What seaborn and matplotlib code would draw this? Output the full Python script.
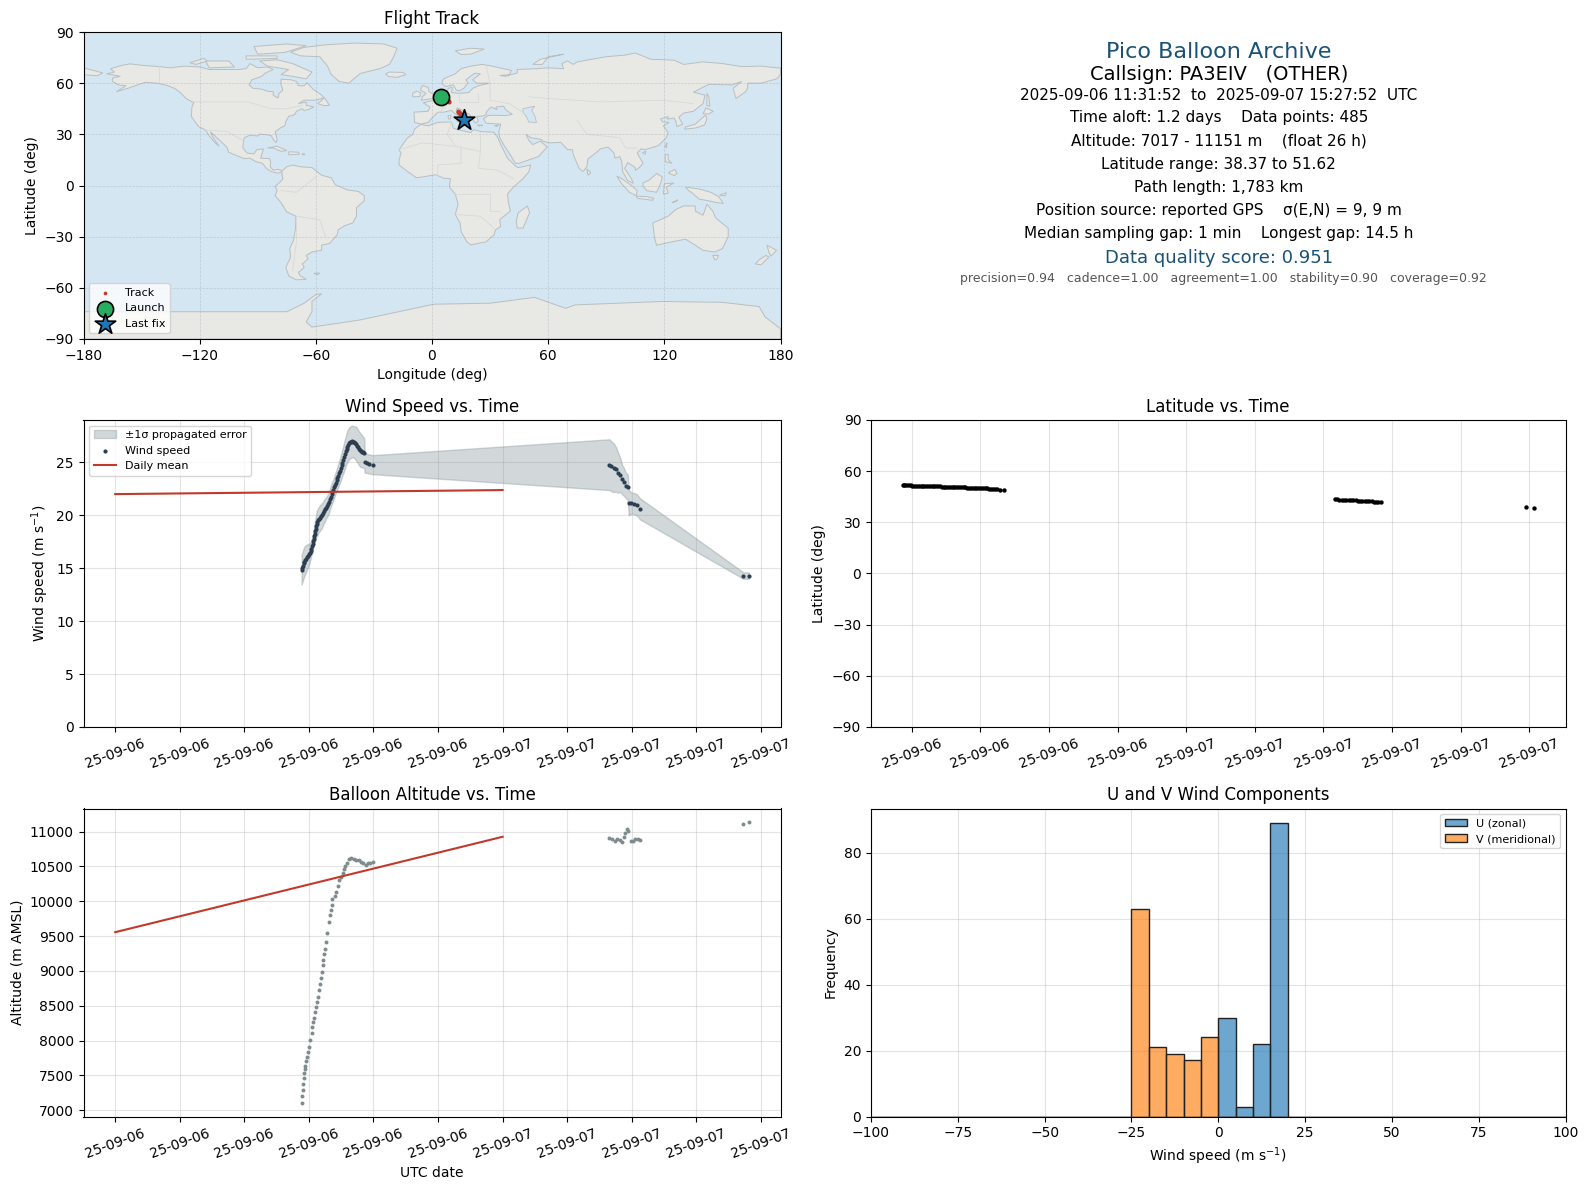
import matplotlib

matplotlib.use("Agg")
import matplotlib.dates as mdates
import matplotlib.pyplot as plt
import numpy as np
import pandas as pd
import seaborn as sns

START_DAY = pd.Timestamp("2025-09-06")
COLOR_RED = "#c0392b"
COLOR_NAVY = "#2c3e50"
COLOR_GREY = "#7f8c8d"
COLOR_BAND = "#7f9095"
COLOR_TITLE = "#1a5276"
OCEAN = "#d4e6f1"
LAND = "#e8e8e4"

# wind speed, hours since 09-06 00:00 UTC
wind_hours = [11.55, 11.59, 11.63, 11.67, 11.71, 11.76, 11.81, 11.87, 11.94, 12.00, 12.06, 12.10, 12.14, 12.18, 12.23,
              12.26, 12.29, 12.32, 12.35, 12.38, 12.41, 12.45, 12.48, 12.53, 12.58, 12.64, 12.70, 12.76, 12.83, 12.89,
              12.95, 13.01, 13.07, 13.13, 13.20, 13.25, 13.30, 13.35, 13.40, 13.45, 13.51, 13.56, 13.61, 13.66, 13.71,
              13.76, 13.82, 13.87, 13.92, 13.97, 14.02, 14.07, 14.13, 14.18, 14.23, 14.28, 14.33, 14.38, 14.44, 14.50,
              14.56, 14.62, 14.69, 14.75, 14.81, 14.87, 14.93, 15.00, 15.06, 15.12, 15.18, 15.25, 15.31, 15.37, 15.43,
              15.45, 15.57, 15.74, 15.95,
              30.62, 30.74, 30.88, 31.03, 31.15, 31.28, 31.40, 31.52, 31.65, 31.75, 31.81, 31.98, 32.14, 32.33,
              32.50, 38.92, 39.25]
wind_speed = [14.87, 15.05, 15.25, 15.45, 15.63, 15.77, 15.89, 16.03, 16.17, 16.32, 16.46, 16.65, 16.84, 17.08, 17.32,
              17.55, 17.79, 18.03, 18.27, 18.51, 18.75, 18.97, 19.19, 19.35, 19.51, 19.64, 19.76, 19.89, 20.02, 20.21,
              20.40, 20.55, 20.71, 20.87, 21.03, 21.28, 21.54, 21.76, 21.98, 22.19, 22.40, 22.63, 22.87, 23.08, 23.29,
              23.51, 23.73, 23.97, 24.21, 24.46, 24.71, 24.98, 25.25, 25.52, 25.79, 26.05, 26.30, 26.49, 26.68, 26.79,
              26.90, 26.94, 26.97, 26.94, 26.90, 26.83, 26.75, 26.59, 26.43, 26.30, 26.17, 26.10, 26.02, 25.94, 25.86,
              25.03, 24.90, 24.84, 24.78,
              24.78, 24.62, 24.49, 24.33, 24.02, 23.83, 23.38, 23.13, 22.78, 22.68, 21.19, 21.16, 21.10, 20.97,
              20.62, 14.30, 14.30]
wind_err = [1.4, 1.4, 1.4, 1.4, 1.4, 1.35, 1.3, 1.2, 1.1, 1.0, 0.9, 0.8, 0.7, 0.7, 0.7,
            0.7, 0.7, 0.8, 0.9, 0.95, 1.0, 1.1, 1.2, 1.2, 1.2, 1.2, 1.2, 1.2, 1.15, 1.1,
            1.1, 1.05, 1.0, 1.0, 1.0, 1.0, 1.0, 1.0, 1.0, 1.0, 1.0, 1.0, 1.0, 1.0, 1.0,
            1.05, 1.1, 1.1, 1.15, 1.2, 1.2, 1.25, 1.3, 1.35, 1.4, 1.4, 1.45, 1.5, 1.5, 1.5,
            1.5, 1.5, 1.5, 1.5, 1.5, 1.55, 1.6, 1.6, 1.6, 1.6, 1.6, 1.55, 1.5, 1.45, 1.4,
            1.0, 0.9, 0.9, 0.9,
            2.4, 2.35, 2.3, 2.1, 1.9, 1.6, 1.4, 1.3, 1.2, 1.2, 1.2, 1.0, 1.0, 1.0,
            1.0, 0.3, 0.3]

# balloon altitude
alt_hours = [11.55, 11.55, 11.61, 11.61, 11.67, 11.69, 11.73, 11.75, 11.81, 11.86, 11.94, 12.00, 12.08, 12.17,
             12.21, 12.27, 12.33, 12.39, 12.43, 12.50, 12.56, 12.62, 12.68, 12.72, 12.79, 12.85, 12.89, 12.95,
             12.99, 13.05, 13.14, 13.22, 13.28, 13.34, 13.40, 13.45, 13.59, 13.69, 13.80, 13.88, 13.98, 14.09,
             14.15, 14.25, 14.38, 14.46, 14.60, 14.77, 14.91, 15.08, 15.22, 15.37, 15.51, 15.66, 15.80, 15.95,
             30.62, 30.78, 30.93, 31.07, 31.24, 31.38, 31.50, 31.61, 31.71, 31.79, 31.96, 32.06, 32.23, 32.37,
             32.54, 38.92, 39.25]
altitude = [7110, 7197, 7283, 7370, 7457, 7529, 7586, 7634, 7707, 7764, 7841, 7909, 8005, 8115,
            8187, 8260, 8322, 8404, 8476, 8558, 8620, 8726, 8812, 8899, 8981, 9077, 9159, 9245,
            9317, 9413, 9543, 9702, 9798, 9870, 9942, 10034, 10072, 10135, 10216, 10303, 10351, 10399,
            10457, 10505, 10543, 10601, 10615, 10611, 10591, 10591, 10567, 10543, 10514, 10543, 10553, 10562,
            10909, 10889, 10865, 10894, 10880, 10851, 10918, 10976, 11034, 11010, 10861, 10870, 10894, 10899,
            10885, 11106, 11130]

# daily means sit at midnight
daily_hours = [0, 24]
daily_wind = [22.0, 22.38]
daily_alt = [9555, 10925]

# latitude and longitude share the same fixes
track_hours = [11.60, 11.65, 11.71, 11.79, 11.87, 11.95, 12.03, 12.11, 12.19, 12.27, 12.35, 12.43,
               12.51, 12.59, 12.67, 12.75, 12.83, 12.91, 12.99, 13.07, 13.15, 13.23, 13.31, 13.39,
               13.47, 13.55, 13.63, 13.71, 13.79, 13.87, 13.95, 14.03, 14.11, 14.19, 14.27, 14.35,
               14.43, 14.51, 14.59, 14.67, 14.75, 14.83, 14.91, 14.99, 15.07, 15.15, 15.23, 15.31,
               15.39, 15.47, 15.55, 15.63, 15.72, 15.85, 16.02,
               30.50, 30.60, 30.70, 30.80, 30.90, 31.00, 31.10, 31.20, 31.30, 31.40, 31.50, 31.60, 31.70, 31.80,
               31.90, 32.00, 32.10, 32.20, 32.30, 32.40, 32.50,
               38.85, 39.20]
track_lat = [51.62, 51.6, 51.6, 51.6, 51.6, 51.6, 51.55, 51.55, 51.55, 51.5, 51.5, 51.4,
             51.2, 51.2, 51.2, 51.1, 51.1, 51.1, 51.1, 51.1, 51.05, 51.05, 51.0, 51.0,
             51.0, 51.0, 50.95, 50.95, 50.9, 50.9, 50.6, 50.6, 50.6, 50.5, 50.5, 50.5,
             50.4, 50.4, 50.3, 50.3, 50.3, 50.2, 50.0, 50.0, 49.95, 49.9, 49.9, 49.9,
             49.8, 49.8, 49.7, 49.6, 49.3, 49.2, 49.1,
             43.4, 43.4, 43.3, 43.3, 43.2, 43.2, 43.1, 43.1, 42.9, 42.9, 42.8, 42.7, 42.6, 42.5,
             42.5, 42.4, 42.4, 42.2, 42.1, 42.0, 41.8,
             38.75, 38.37]
track_lon = [4.4, 4.45, 4.5, 4.55, 4.6, 4.7, 4.75, 4.8, 4.9, 4.95, 5.0, 5.1,
             5.2, 5.25, 5.35, 5.45, 5.5, 5.6, 5.7, 5.75, 5.85, 5.95, 6.0, 6.1,
             6.2, 6.3, 6.35, 6.45, 6.5, 6.6, 6.7, 6.75, 6.85, 6.95, 7.0, 7.1,
             7.2, 7.3, 7.35, 7.45, 7.5, 7.6, 7.7, 7.8, 7.85, 7.95, 8.0, 8.1,
             8.2, 8.3, 8.4, 8.5, 8.7, 8.85, 9.0,
             13.4, 13.45, 13.5, 13.55, 13.6, 13.7, 13.75, 13.8, 13.9, 13.95, 14.0, 14.1, 14.15, 14.2,
             14.3, 14.4, 14.5, 14.6, 14.7, 14.8, 14.9,
             16.1, 16.3]

# wind component histogram
bin_edges = [-100, -95, -90, -85, -80, -75, -70, -65, -60, -55, -50, -45, -40, -35, -30, -25, -20, -15, -10, -5,
             0, 5, 10, 15, 20, 25, 30, 35, 40, 45, 50, 55, 60, 65, 70, 75, 80, 85, 90, 95, 100]
u_bins = [2.5, 7.5, 12.5, 17.5]
u_counts = [30, 3, 22, 89]
v_bins = [-22.5, -17.5, -12.5, -7.5, -2.5]
v_counts = [63, 21, 19, 17, 24]

# info panel
info_lines = [
    "2025-09-06 11:31:52  to  2025-09-07 15:27:52  UTC",
    "Time aloft: 1.2 days    Data points: 485",
    "Altitude: 7017 - 11151 m    (float 26 h)",
    "Latitude range: 38.37 to 51.62",
    "Path length: 1,783 km",
    "Position source: reported GPS    σ(E,N) = 9, 9 m",
    "Median sampling gap: 1 min    Longest gap: 14.5 h",
]
info_y = [0.794, 0.720, 0.645, 0.569, 0.494, 0.419, 0.344]

# coarse coastlines (lon, lat)
north_america = [(-168, 65.5), (-164, 66.5), (-166, 68.5), (-160, 70.5), (-156, 71.3), (-150, 70.5), (-141, 69.7),
                 (-135, 69), (-128, 70), (-120, 69.5), (-115, 68), (-108, 68), (-100, 68), (-96, 68.5), (-94, 71.5),
                 (-90, 69), (-85, 69.5), (-82, 68), (-86, 66), (-88, 64), (-93, 62), (-94.5, 59), (-92.5, 57),
                 (-88, 56.5), (-85, 55.3), (-82, 55), (-82, 52.9), (-79.5, 51.3), (-79, 54), (-77, 56), (-78, 59),
                 (-78, 62.3), (-73, 62), (-70, 61), (-69, 58.5), (-66, 58.5), (-64.5, 60.3), (-61.5, 56.5), (-57, 53),
                 (-56, 51.5), (-60, 50), (-66, 50), (-69, 48), (-65, 49), (-65, 47), (-61, 46), (-64, 44.5), (-66, 44),
                 (-67, 45), (-70, 43.5), (-71, 41.5), (-74, 40.5), (-75.5, 37.5), (-76, 35), (-78, 34), (-81, 31.5),
                 (-80, 27), (-80.5, 25.2), (-82, 27), (-83, 29.2), (-85, 29.7), (-89, 30.2), (-90, 29), (-94, 29.5),
                 (-97, 28), (-97.5, 25), (-97.7, 22), (-95.5, 19), (-92, 18.5), (-90.5, 21), (-87, 21.5), (-88, 18),
                 (-88.5, 16), (-84, 15.8), (-83.3, 14), (-83.6, 11), (-82, 9), (-79.5, 9.5), (-77.5, 8.5), (-78, 7.5),
                 (-80, 7.3), (-83, 8.2), (-85.5, 10), (-87.5, 13), (-91, 14), (-94, 16), (-97, 15.8), (-101, 17.5),
                 (-105, 19.5), (-106, 22.5), (-109, 25.8), (-112.5, 29.5), (-114.5, 31.5), (-113, 28), (-110, 23),
                 (-112, 25), (-115, 29), (-117, 32.5), (-120.5, 34.5), (-122.5, 37.5), (-124.3, 40.5), (-124, 46),
                 (-123, 48.5), (-127, 51), (-130, 54.5), (-133, 57), (-137, 58.7), (-142, 60), (-148, 60.5), (-152, 59),
                 (-157, 57), (-163, 55), (-158, 58.5), (-162, 59), (-165, 61), (-165, 63), (-161, 64)]
greenland = [(-73, 78.2), (-66, 81), (-55, 82.5), (-40, 83.5), (-25, 83), (-18, 80.5), (-20, 75), (-22, 71), (-27, 68.5),
             (-37, 65.7), (-43, 60), (-48, 61), (-52, 65), (-54, 70), (-58, 75.5), (-68, 76)]
baffin = [(-80, 73.7), (-72, 71.5), (-67, 69), (-62, 66.5), (-65, 62.5), (-72, 64), (-78, 65), (-74, 68), (-85, 70), (-89, 73)]
victoria_is = [(-117, 73), (-105, 73), (-102, 69.5), (-115, 69)]
ellesmere = [(-90, 77), (-76, 78), (-65, 82), (-75, 83), (-92, 81.5)]
banks_is = [(-125, 72), (-118, 74.5), (-116, 73), (-122, 71)]
devon_is = [(-96, 76), (-80, 76), (-80, 74.5), (-96, 74)]
newfoundland = [(-59, 48), (-55.5, 51.5), (-53, 47), (-56, 46.8)]
cuba = [(-85, 22), (-80, 23), (-75, 20.5), (-78, 20), (-82, 22)]
hispaniola = [(-74, 19.8), (-69, 19.5), (-68.5, 18.3), (-74, 18)]
puerto_rico = [(-67.2, 18.5), (-65.7, 18.4), (-66, 17.9)]
falklands = [(-61, -51.5), (-58, -51.3), (-59, -52.3)]
south_america = [(-77.5, 8.5), (-75, 11), (-72, 12), (-68, 11), (-62, 10.5), (-57, 6), (-52, 4.5), (-50, 0.5), (-44, -2.5),
                 (-38, -3.5), (-35, -6), (-35, -9), (-39, -13), (-39, -18), (-41, -22), (-45, -23.5), (-48.5, -26), (-49, -29),
                 (-53, -34), (-57, -35), (-57, -38), (-62, -39), (-65, -41), (-64, -43), (-67, -46), (-66, -48), (-69, -51),
                 (-68, -53), (-65, -55), (-70, -55.3), (-74, -53), (-75.5, -48), (-73, -42), (-73.5, -37), (-71.5, -32),
                 (-70.5, -25), (-70.3, -18), (-75, -15.5), (-78, -10), (-81, -6), (-80, -3), (-81, -0.5), (-78.5, 2), (-77, 4), (-77.5, 7)]
africa = [(-6, 35.8), (-2, 35), (3, 37), (10, 37.3), (11, 33.5), (15, 32.3), (20, 31), (21.5, 32.8), (25, 31.7), (32, 31.2),
          (34, 28), (35.5, 24), (37.3, 20), (39, 16), (43, 11.5), (44.5, 10.5), (51, 12), (50, 8), (47, 4), (42, -1), (39, -5),
          (39.5, -10), (40.5, -15), (35, -20), (35.5, -24), (32.8, -26), (32, -29), (28, -33), (20, -34.8), (18, -33), (15, -27),
          (14.5, -22), (12, -17), (13.5, -11), (12, -5), (9, -1), (9.5, 4), (6, 4.3), (2, 6.3), (-4, 5.2), (-8, 4.5), (-13, 8.5),
          (-17, 12), (-17, 15), (-16, 19), (-17, 21), (-13, 27.5), (-10, 30), (-9, 33)]
eurasia = [(-9, 37), (-9.3, 43), (-2, 43.5), (-1, 46), (-4.5, 48.5), (1, 50), (4, 52), (7, 53.5), (8.5, 57), (10.5, 57.5), (10, 54.5),
           (14, 54), (19, 54.5), (21, 57), (24, 58.5), (29.5, 60), (23, 60), (21, 62), (25, 65.5), (22, 65.8), (17.5, 62), (18.5, 60),
           (16.5, 57), (14, 55.5), (12.5, 56), (11, 59), (7, 58), (5, 60), (6, 62.5), (12, 65.5), (15, 68.5), (20, 70), (26, 71), (31, 70),
           (41, 67.5), (40, 65), (35, 64.5), (38, 64), (44, 66), (44, 68), (54, 68.5), (60, 69), (68, 68.5), (67, 71.5), (70, 73), (73, 71),
           (75, 72.5), (80, 73.5), (90, 75.5), (100, 76.5), (105, 77.7), (113, 74), (125, 73.5), (130, 71), (140, 72.5), (150, 71.5),
           (160, 69.7), (170, 70), (178, 69), (180, 69), (180, 65), (178, 62.5), (170, 60), (163, 60), (163, 57), (162, 55), (157, 51),
           (155.5, 57), (160, 61), (155, 59), (143, 59.3), (135, 54.7), (141, 53), (140, 48), (135, 43.5), (130, 42.5), (127.5, 40),
           (129.5, 36), (126.5, 34.5), (126, 37.5), (125, 39.5), (121.5, 39), (122, 40.5), (118, 39), (119, 37.3), (122.5, 37), (119.5, 35),
           (122, 31), (121, 28), (117, 23.5), (113, 22), (110, 21), (108, 21.5), (106, 19), (109, 13), (107, 10.5), (105, 8.8), (105, 10.5),
           (101, 13.5), (99.5, 10), (103, 4), (104, 1.3), (101, 3), (98.5, 8), (98, 14), (97, 17), (94.5, 16), (94, 19), (91, 22.5), (87, 21.5),
           (85, 19.5), (80.5, 15.5), (80, 11), (78, 8.2), (76, 10), (73, 18), (72.5, 21), (70, 21), (68, 23.5), (66.5, 25.3), (61, 25), (57, 26),
           (56.5, 27), (51, 28), (48.5, 30), (50, 26.5), (52, 24), (56, 26), (59.5, 22.5), (55, 17), (45, 13), (43, 13), (41, 17), (37, 24),
           (35, 28), (34.5, 31.5), (35.5, 36), (32, 36.2), (28, 36.5), (26.5, 39), (29, 41), (31, 41.2), (38, 41), (41.5, 41.7), (38, 44.5),
           (37, 46.5), (33, 46), (33.5, 44.5), (30.5, 46), (28, 43), (28, 41.5), (26, 40.7), (23, 40.5), (24, 38), (22.5, 36.5), (21, 38.5),
           (19.5, 41.5), (15, 44.5), (13, 45.5), (12.5, 44), (16, 41.5), (18.5, 40), (16, 38), (15.8, 40), (12, 42), (10, 44), (6, 43), (3, 43),
           (0, 39.5), (-2, 37), (-5.5, 36)]
chukotka = [(-180, 69), (-175, 67.5), (-170, 66), (-173, 64.3), (-180, 65)]
australia = [(114, -22), (122, -18), (126, -14), (130, -12), (136, -12), (136, -15), (140, -17.5), (142, -11), (145, -15), (146.5, -19),
             (153, -25), (153, -30), (150, -37), (146, -39), (140, -38), (136, -35), (131, -31.5), (124, -33), (116, -35), (115, -31)]
tasmania = [(145, -41), (148, -41), (147, -43.5), (146, -43.5)]
nz_north = [(173, -35), (178, -38), (175, -41.5), (174, -39)]
nz_south = [(172.5, -41), (174, -42), (170, -46.5), (167, -46), (169, -43.5)]
new_guinea = [(131, -1), (138, -2), (144, -4), (148, -6.5), (150.5, -10.5), (147, -10), (143, -9), (138, -8), (134, -4), (132.5, -3)]
new_britain = [(148.5, -5.7), (152, -4.2), (151.5, -6)]
timor = [(124, -10), (127, -8.4), (126, -9.5)]
borneo = [(109, 1.5), (112, 3), (116, 7), (119, 5), (118, 1), (116, -4), (111, -3), (109, -0.5)]
sumatra = [(95.5, 5.5), (98, 4), (103, 0), (106, -3), (105.5, -6), (102, -4), (98, 1)]
java = [(105.5, -6.3), (111, -6.5), (114.5, -7.5), (114, -8.7), (106, -7.5)]
sulawesi = [(119.5, -5), (120, 1), (125, 1.5), (121, -1), (122, -4.5)]
luzon = [(120.5, 18), (122, 18.3), (122, 15), (124, 13), (120.5, 14)]
mindanao = [(122, 7.5), (125.5, 9.5), (126.5, 7), (125, 5.8)]
taiwan = [(120.2, 23), (121.5, 25.2), (121, 22)]
hainan = [(108.7, 19.3), (110.5, 20), (110, 18.3)]
honshu = [(130.5, 33), (131, 34.3), (136, 36), (140, 40), (141.3, 41.3), (142, 39), (140.8, 35.5), (136, 33.7)]
hokkaido = [(140, 42), (141.5, 45.5), (145.3, 43.5), (143, 42)]
sakhalin = [(142, 54), (143, 52), (143.5, 46.5), (142, 47)]
sri_lanka = [(80, 9.7), (82, 7.5), (80.5, 6)]
madagascar = [(49.3, -12), (50.4, -16), (47, -25), (44, -25), (43.5, -21), (44.5, -16)]
britain = [(-5.5, 50), (1.5, 51.2), (1.7, 52.8), (-1.5, 55), (-2, 57.5), (-5, 58.6), (-6, 56), (-3, 54), (-5, 52)]
ireland = [(-10, 52), (-6.2, 52.2), (-6, 54.5), (-8, 55.3), (-10, 54)]
iceland = [(-24, 65.5), (-22, 66.5), (-15, 66.3), (-13.5, 65), (-18, 63.4), (-22.5, 63.9)]
svalbard = [(12, 79), (20, 80.5), (27, 80), (20, 77), (15, 76.8)]
novaya_zemlya = [(52, 71), (56, 74), (68, 77), (60, 75.5), (57, 71)]
sicily = [(12.5, 38), (15.5, 38.2), (15, 36.7)]
sardinia = [(8.3, 41), (9.7, 41), (9.5, 39), (8.5, 39)]
crete = [(23.5, 35.5), (26.3, 35.3), (24.5, 34.9)]
cyprus = [(32.3, 35), (34.5, 35.6), (33.5, 34.6)]
antarctica = [(-180, -74), (-118, -74), (-75, -74), (-66, -69), (-60, -64), (-57, -63.5), (-62, -68), (-62, -74), (-65, -80), (-62, -83),
              (-38, -79), (1, -69.6), (30, -69), (53, -65.6), (69, -72), (74, -70), (119, -68), (150, -68.5), (169, -71), (172, -77),
              (180, -84), (180, -90), (-180, -90)]
land_shapes = [north_america, greenland, baffin, victoria_is, ellesmere, banks_is, devon_is, newfoundland, cuba, hispaniola,
               puerto_rico, falklands, south_america, africa, eurasia, chukotka, australia, tasmania, nz_north, nz_south,
               new_guinea, new_britain, timor, borneo, sumatra, java, sulawesi, luzon, mindanao, taiwan, hainan, honshu,
               hokkaido, sakhalin, sri_lanka, madagascar, britain, ireland, iceland, svalbard, novaya_zemlya, sicily,
               sardinia, crete, cyprus, antarctica]
caspian = [(47, 45), (53, 46.5), (51.5, 44), (53, 41), (54, 37), (50, 37.2), (49, 40), (47, 43)]
border_lines = [
    [(-141, 70), (-141, 60)], [(-123, 49), (-95, 49), (-83, 45), (-75, 45), (-67, 47)], [(-117, 32.5), (-106, 31.7), (-97, 26)],
    [(-17, 21), (-5, 25), (12, 23), (25, 20), (25, 31)], [(25, 20), (24, 10), (34, 9), (42, 4)], [(10, 37), (8, 30), (12, 23)],
    [(3, 6), (3, 12), (15, 13), (15, 23)], [(12, -5), (30, -5), (30, -15), (35, -15)], [(12, -17), (25, -18), (32, -25)],
    [(-70, -18), (-58, -20), (-55, -30)], [(-70, -18), (-70, -33), (-72, -50)], [(-78, -3), (-70, -4), (-60, 5)],
    [(28, 70), (30, 60), (30, 50), (40, 48), (48, 42)], [(50, 52), (60, 51), (87, 49), (120, 50), (135, 48)],
    [(75, 38), (80, 30), (97, 28), (100, 22), (106, 22)], [(4, 43), (8, 48), (7, 53)], [(14, 54), (14, 49), (24, 49), (24, 54)],
]


def to_times(hours):
    return START_DAY + pd.to_timedelta(np.array(hours, dtype=float), unit="h")


def light_grid(ax):
    ax.grid(True, color="#b0b0b0", alpha=0.35, linewidth=0.8)
    ax.set_axisbelow(True)


def format_time_axis(ax, interval):
    ax.xaxis.set_major_locator(mdates.HourLocator(byhour=range(0, 24, interval)))
    ax.xaxis.set_major_formatter(mdates.DateFormatter("%y-%m-%d"))
    ax.tick_params(axis="x", labelrotation=20)
    ax.set_xlabel("")
    light_grid(ax)


def draw_map(ax):
    ax.set_facecolor(OCEAN)
    for shape in land_shapes:
        lons, lats = zip(*shape)
        ax.fill(lons, lats, facecolor=LAND, edgecolor="#b9bfc1", linewidth=0.7, zorder=1)
    lons, lats = zip(*caspian)
    ax.fill(lons, lats, facecolor=OCEAN, edgecolor="#b9bfc1", linewidth=0.6, zorder=1)
    for line in border_lines:
        lons, lats = zip(*line)
        ax.plot(lons, lats, color="#d8dad8", linewidth=0.6, zorder=1.2)
    ax.grid(True, color="#8a979e", alpha=0.35, linewidth=0.5, linestyle="--")
    ax.set_axisbelow("line")
    sns.scatterplot(x=track_lon, y=track_lat, ax=ax, s=7, color=COLOR_RED, linewidth=0, label="Track", zorder=3)
    sns.scatterplot(x=track_lon[:1], y=track_lat[:1], ax=ax, s=135, color="#27ae60", edgecolor="black", linewidth=1.2,
                    label="Launch", zorder=4)
    sns.scatterplot(x=track_lon[-1:], y=track_lat[-1:], ax=ax, s=240, marker="*", color="#1f77b4", edgecolor="black",
                    linewidth=1.2, label="Last fix", zorder=5)
    ax.set_xlim(-180, 180)
    ax.set_ylim(-90, 90)
    ax.set_xticks(range(-180, 181, 60))
    ax.set_yticks(range(-90, 91, 30))
    ax.set_xlabel("Longitude (deg)")
    ax.set_ylabel("Latitude (deg)")
    ax.set_title("Flight Track")
    ax.legend(loc="lower left", fontsize=8, framealpha=0.8)


def draw_info(ax):
    ax.axis("off")
    ax.text(0.5, 0.935, "Pico Balloon Archive", ha="center", va="center", fontsize=16, color=COLOR_TITLE, transform=ax.transAxes)
    ax.text(0.5, 0.862, "Callsign: PA3EIV   (OTHER)", ha="center", va="center", fontsize=14, transform=ax.transAxes)
    for line, y in zip(info_lines, info_y):
        ax.text(0.5, y, line, ha="center", va="center", fontsize=11, transform=ax.transAxes)
    ax.text(0.5, 0.264, "Data quality score: 0.951", ha="center", va="center", fontsize=13, color=COLOR_TITLE, transform=ax.transAxes)
    ax.text(0.506, 0.197, "precision=0.94   cadence=1.00   agreement=1.00   stability=0.90   coverage=0.92",
            ha="center", va="center", fontsize=9, color="#555555", transform=ax.transAxes)


def draw_wind(ax):
    times = to_times(wind_hours)
    speed = np.array(wind_speed)
    err = np.array(wind_err)
    ax.fill_between(times, speed - err, speed + err, color=COLOR_BAND, alpha=0.35, label="±1σ propagated error")
    sns.scatterplot(x=times, y=speed, ax=ax, s=9, color=COLOR_NAVY, linewidth=0, label="Wind speed")
    sns.lineplot(x=to_times(daily_hours), y=daily_wind, ax=ax, color=COLOR_RED, linewidth=1.5, label="Daily mean")
    ax.set_ylim(0, 29)
    format_time_axis(ax, 4)
    ax.set_ylabel("Wind speed (m s$^{-1}$)")
    ax.set_title("Wind Speed vs. Time")
    ax.legend(loc="upper left", fontsize=8)


def draw_latitude(ax):
    sns.scatterplot(x=to_times(track_hours), y=track_lat, ax=ax, s=10, color="black", linewidth=0)
    ax.set_ylim(-90, 90)
    ax.set_yticks(range(-90, 91, 30))
    format_time_axis(ax, 3)
    ax.set_ylabel("Latitude (deg)")
    ax.set_title("Latitude vs. Time")


def draw_altitude(ax):
    sns.scatterplot(x=to_times(alt_hours), y=altitude, ax=ax, s=8, color=COLOR_GREY, linewidth=0)
    sns.lineplot(x=to_times(daily_hours), y=daily_alt, ax=ax, color=COLOR_RED, linewidth=1.5)
    format_time_axis(ax, 4)
    ax.set_ylabel("Altitude (m AMSL)")
    ax.set_xlabel("UTC date")
    ax.set_title("Balloon Altitude vs. Time")


def draw_components(ax):
    sns.histplot(x=np.repeat(u_bins, u_counts), bins=bin_edges, ax=ax, color="#1f77b4", alpha=0.65, edgecolor="#222222",
                 linewidth=1, label="U (zonal)")
    sns.histplot(x=np.repeat(v_bins, v_counts), bins=bin_edges, ax=ax, color="#ff7f0e", alpha=0.65, edgecolor="#222222",
                 linewidth=1, label="V (meridional)")
    ax.set_xlim(-100, 100)
    light_grid(ax)
    ax.set_xlabel("Wind speed (m s$^{-1}$)")
    ax.set_ylabel("Frequency")
    ax.set_title("U and V Wind Components")
    ax.legend(loc="upper right", fontsize=8)


def panel(fig, left, right, top, bottom):
    return fig.add_axes([left / 1590, 1 - bottom / 1189, (right - left) / 1590, (bottom - top) / 1189])


def main():
    fig = plt.figure(figsize=(15.9, 11.89), dpi=100)
    draw_map(panel(fig, 83.5, 780.5, 32, 339))
    draw_info(panel(fig, 871.5, 1566, 32, 339))
    draw_wind(panel(fig, 83.5, 780.5, 420, 727))
    draw_latitude(panel(fig, 871, 1565.5, 420, 727))
    draw_altitude(panel(fig, 83.5, 780.5, 808.5, 1116.5))
    draw_components(panel(fig, 871, 1565.5, 808.5, 1116.5))
    fig.savefig("out.png", dpi=100)


if __name__ == "__main__":
    main()
